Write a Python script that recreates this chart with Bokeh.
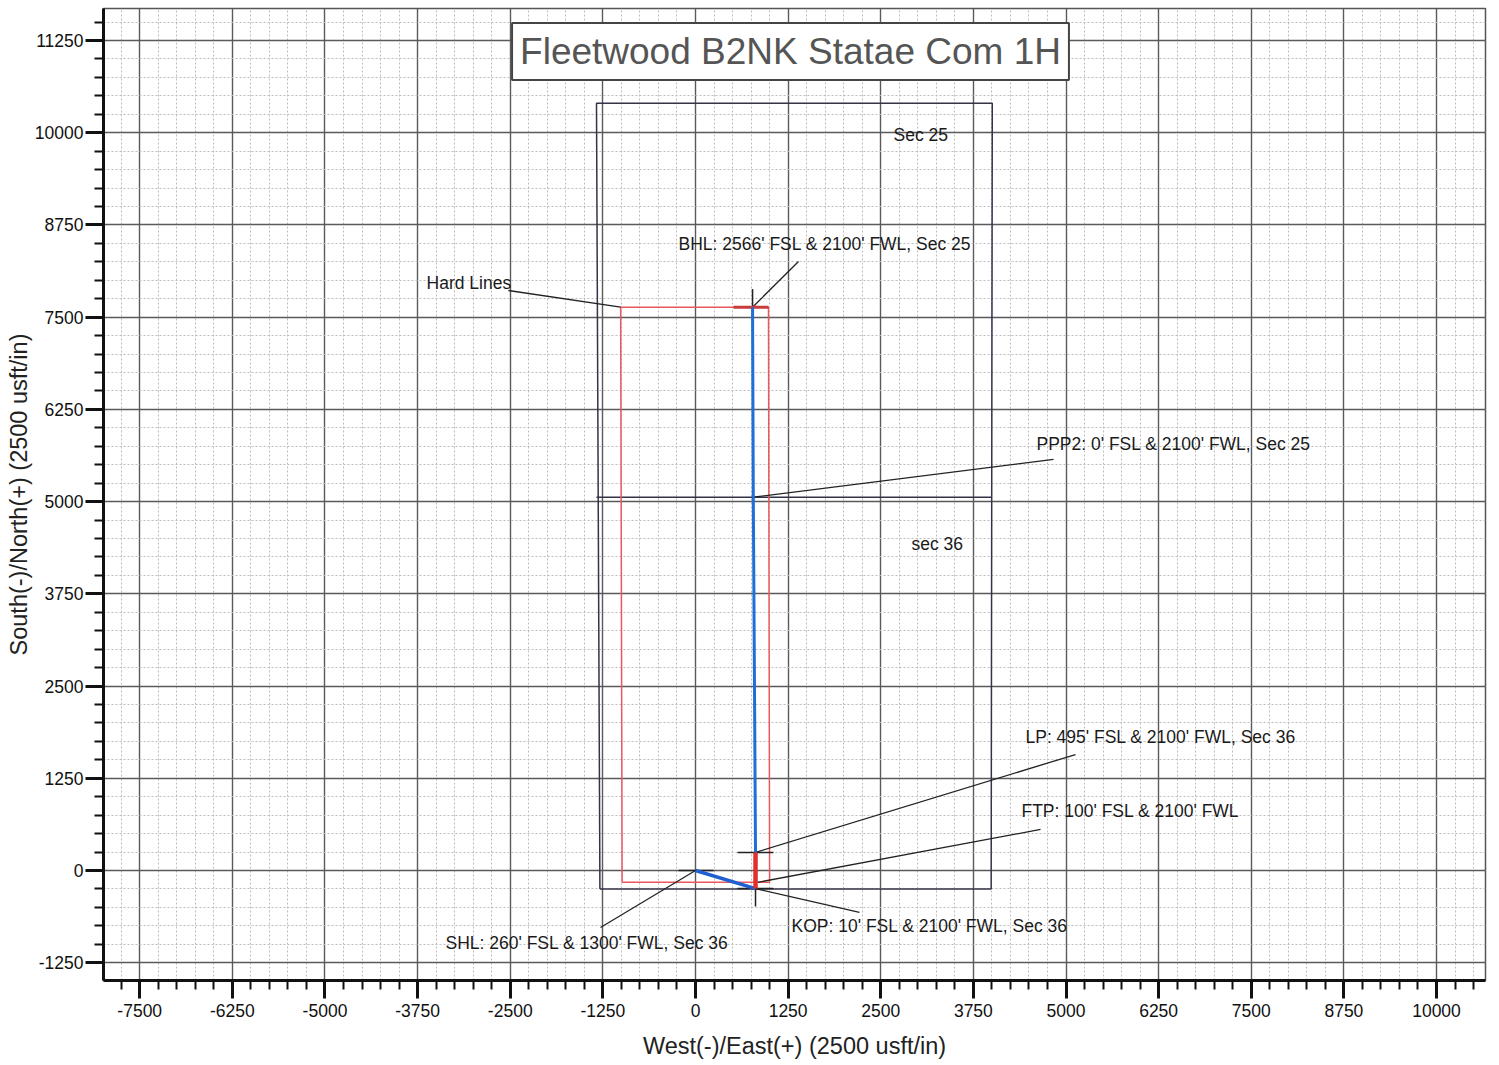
from bokeh.plotting import figure
from bokeh.models import SingleIntervalTicker, Label, Range1d, CustomJSTickFormatter
from bokeh.core.properties import value
from bokeh.embed import file_html
from bokeh.resources import INLINE

FONT = "Liberation Sans"

# ---------------- data (usft, origin at SHL) ----------------
tick_interval = 1250
x_limits = [-7989, 10661]
y_limits = [-1491, 11683]

# section outline (Sec 36 below, Sec 25 above)
sec_outline_x = [-1290, 3990, 4005, -1336, -1290]
sec_outline_y = [-250, -250, 10400, 10400, -250]
sec_divider_x = [-1336, 3990]
sec_divider_y = [5060, 5060]

# hard lines
hard_x = [-990, 1000, 985, -1010, -990]
hard_y = [-160, -160, 7635, 7635, -160]

# wellpath pieces
shl_kop_x = [0, 810]
shl_kop_y = [0, -245]
kop_lp_x = [810, 810]
kop_lp_y = [-245, 245]
lp_bhl_x = [810, 780, 770]
lp_bhl_y = [245, 5060, 7635]

# target cross marks
mark_x0 = [-229, 567, 567, 810, 770]
mark_y0 = [0, 245, -245, -245, 7635]
mark_x1 = [243, 1052, 1052, 810, 770]
mark_y1 = [0, 245, -245, -488, 7880]
bhl_bar_x = [513, 985]
bhl_bar_y = [7635, 7635]

# annotations
ann_text = ["BHL: 2566' FSL & 2100' FWL, Sec 25",
            "Hard Lines",
            "PPP2: 0' FSL & 2100' FWL, Sec 25",
            "LP: 495' FSL & 2100' FWL, Sec 36",
            "FTP: 100' FSL & 2100' FWL",
            "KOP: 10' FSL & 2100' FWL, Sec 36",
            "SHL: 260' FSL & 1300' FWL, Sec 36",
            "Sec 25",
            "sec 36"]
ann_x = [-229, -3630, 4602, 4453, 4399, 1296, -3374, 2672, 2915]
ann_y = [8485, 7956, 5787, 1816, 800, -759, -976, 9962, 4419]

# leader lines: point -> label
lead_x0 = [770, -1010, 780, 810, 840, 810, 0]
lead_y0 = [7635, 7635, 5060, 245, -160, -245, 0]
lead_x1 = [1390, -2524, 4831, 5128, 4656, 2213, -1282]
lead_y1 = [8254, 7861, 5571, 1572, 556, -569, -773]

title_text = "Fleetwood B2NK Statae Com 1H"
title_pos = (1282, 11100)

x_label = "West(-)/East(+) (2500 usft/in)"
y_label = "South(-)/North(+) (2500 usft/in)"

# ---------------- figure ----------------
p = figure(frame_width=1382, frame_height=972,
           x_range=Range1d(*x_limits), y_range=Range1d(*y_limits),
           output_backend="svg", toolbar_location=None,
           min_border_left=103, min_border_top=8, min_border_right=8,
           min_border_bottom=70)
p.background_fill_color = "white"
p.border_fill_color = "white"
p.outline_line_color = "#555555"
p.outline_line_width = 1.5

fmt = CustomJSTickFormatter(code="return tick.toFixed(0);")

for ax in (p.xaxis[0], p.yaxis[0]):
    ax.ticker = SingleIntervalTicker(interval=tick_interval, num_minor_ticks=5)
    ax.formatter = fmt
    ax.axis_line_width = 3
    ax.axis_line_color = "#111111"
    ax.major_tick_out = 18
    ax.major_tick_in = 0
    ax.minor_tick_out = 9
    ax.minor_tick_in = 0
    ax.major_tick_line_width = 3
    ax.minor_tick_line_width = 2
    ax.major_tick_line_color = "#111111"
    ax.minor_tick_line_color = "#111111"
    ax.major_label_text_font = FONT
    ax.major_label_text_font_size = "17.5px"
    ax.major_label_text_color = "#111111"
    ax.axis_label_text_font = FONT
    ax.axis_label_text_font_size = "23.5px"
    ax.axis_label_text_font_style = "normal"
    ax.axis_label_text_color = "#222222"

p.xaxis.major_label_standoff = 5
p.yaxis.major_label_standoff = 2
p.xaxis.axis_label = x_label
p.xaxis.axis_label_standoff = 13
p.yaxis.axis_label = y_label
p.yaxis.axis_label_standoff = 0

for g in (p.xgrid[0], p.ygrid[0]):
    g.grid_line_color = "#5a5a5a"
    g.grid_line_width = 1.4
    g.minor_grid_line_color = "#bdbdbd"
    g.minor_grid_line_width = 1
    g.minor_grid_line_dash = "2 2"

# section lines
p.line(sec_outline_x, sec_outline_y, line_color="#33334a", line_width=1.5)
p.line(sec_divider_x, sec_divider_y, line_color="#33334a", line_width=1.5)

# hard lines
p.line(hard_x, hard_y, line_color="#e8585c", line_width=1.5)

# leaders
p.segment(lead_x0, lead_y0, lead_x1, lead_y1, line_color="#222222", line_width=1.3)

# marks
p.segment(mark_x0, mark_y0, mark_x1, mark_y1, line_color="#222222", line_width=1.5)
p.line(bhl_bar_x, bhl_bar_y, line_color="#c83c3c", line_width=3)

# wellpath
p.line(shl_kop_x, shl_kop_y, line_color="#1f5fcf", line_width=3.5)
p.line(lp_bhl_x, lp_bhl_y, line_color="#1f6fd8", line_width=3)
p.line(kop_lp_x, kop_lp_y, line_color="#e0302c", line_width=4.5)

# annotation texts
p.text(ann_x, ann_y, text=ann_text, text_font=value(FONT), text_font_size="17.5px",
       text_color="#1a1a1a", text_align="left", text_baseline="middle")

title = Label(x=title_pos[0], y=title_pos[1], text=title_text,
              text_font=FONT, text_font_size="37px", text_color="#555555",
              text_align="center", text_baseline="middle",
              background_fill_color="white", border_line_color="#444444",
              border_line_width=2, padding=8)
p.add_layout(title)

open("out.html", "w").write(file_html(p, INLINE))
